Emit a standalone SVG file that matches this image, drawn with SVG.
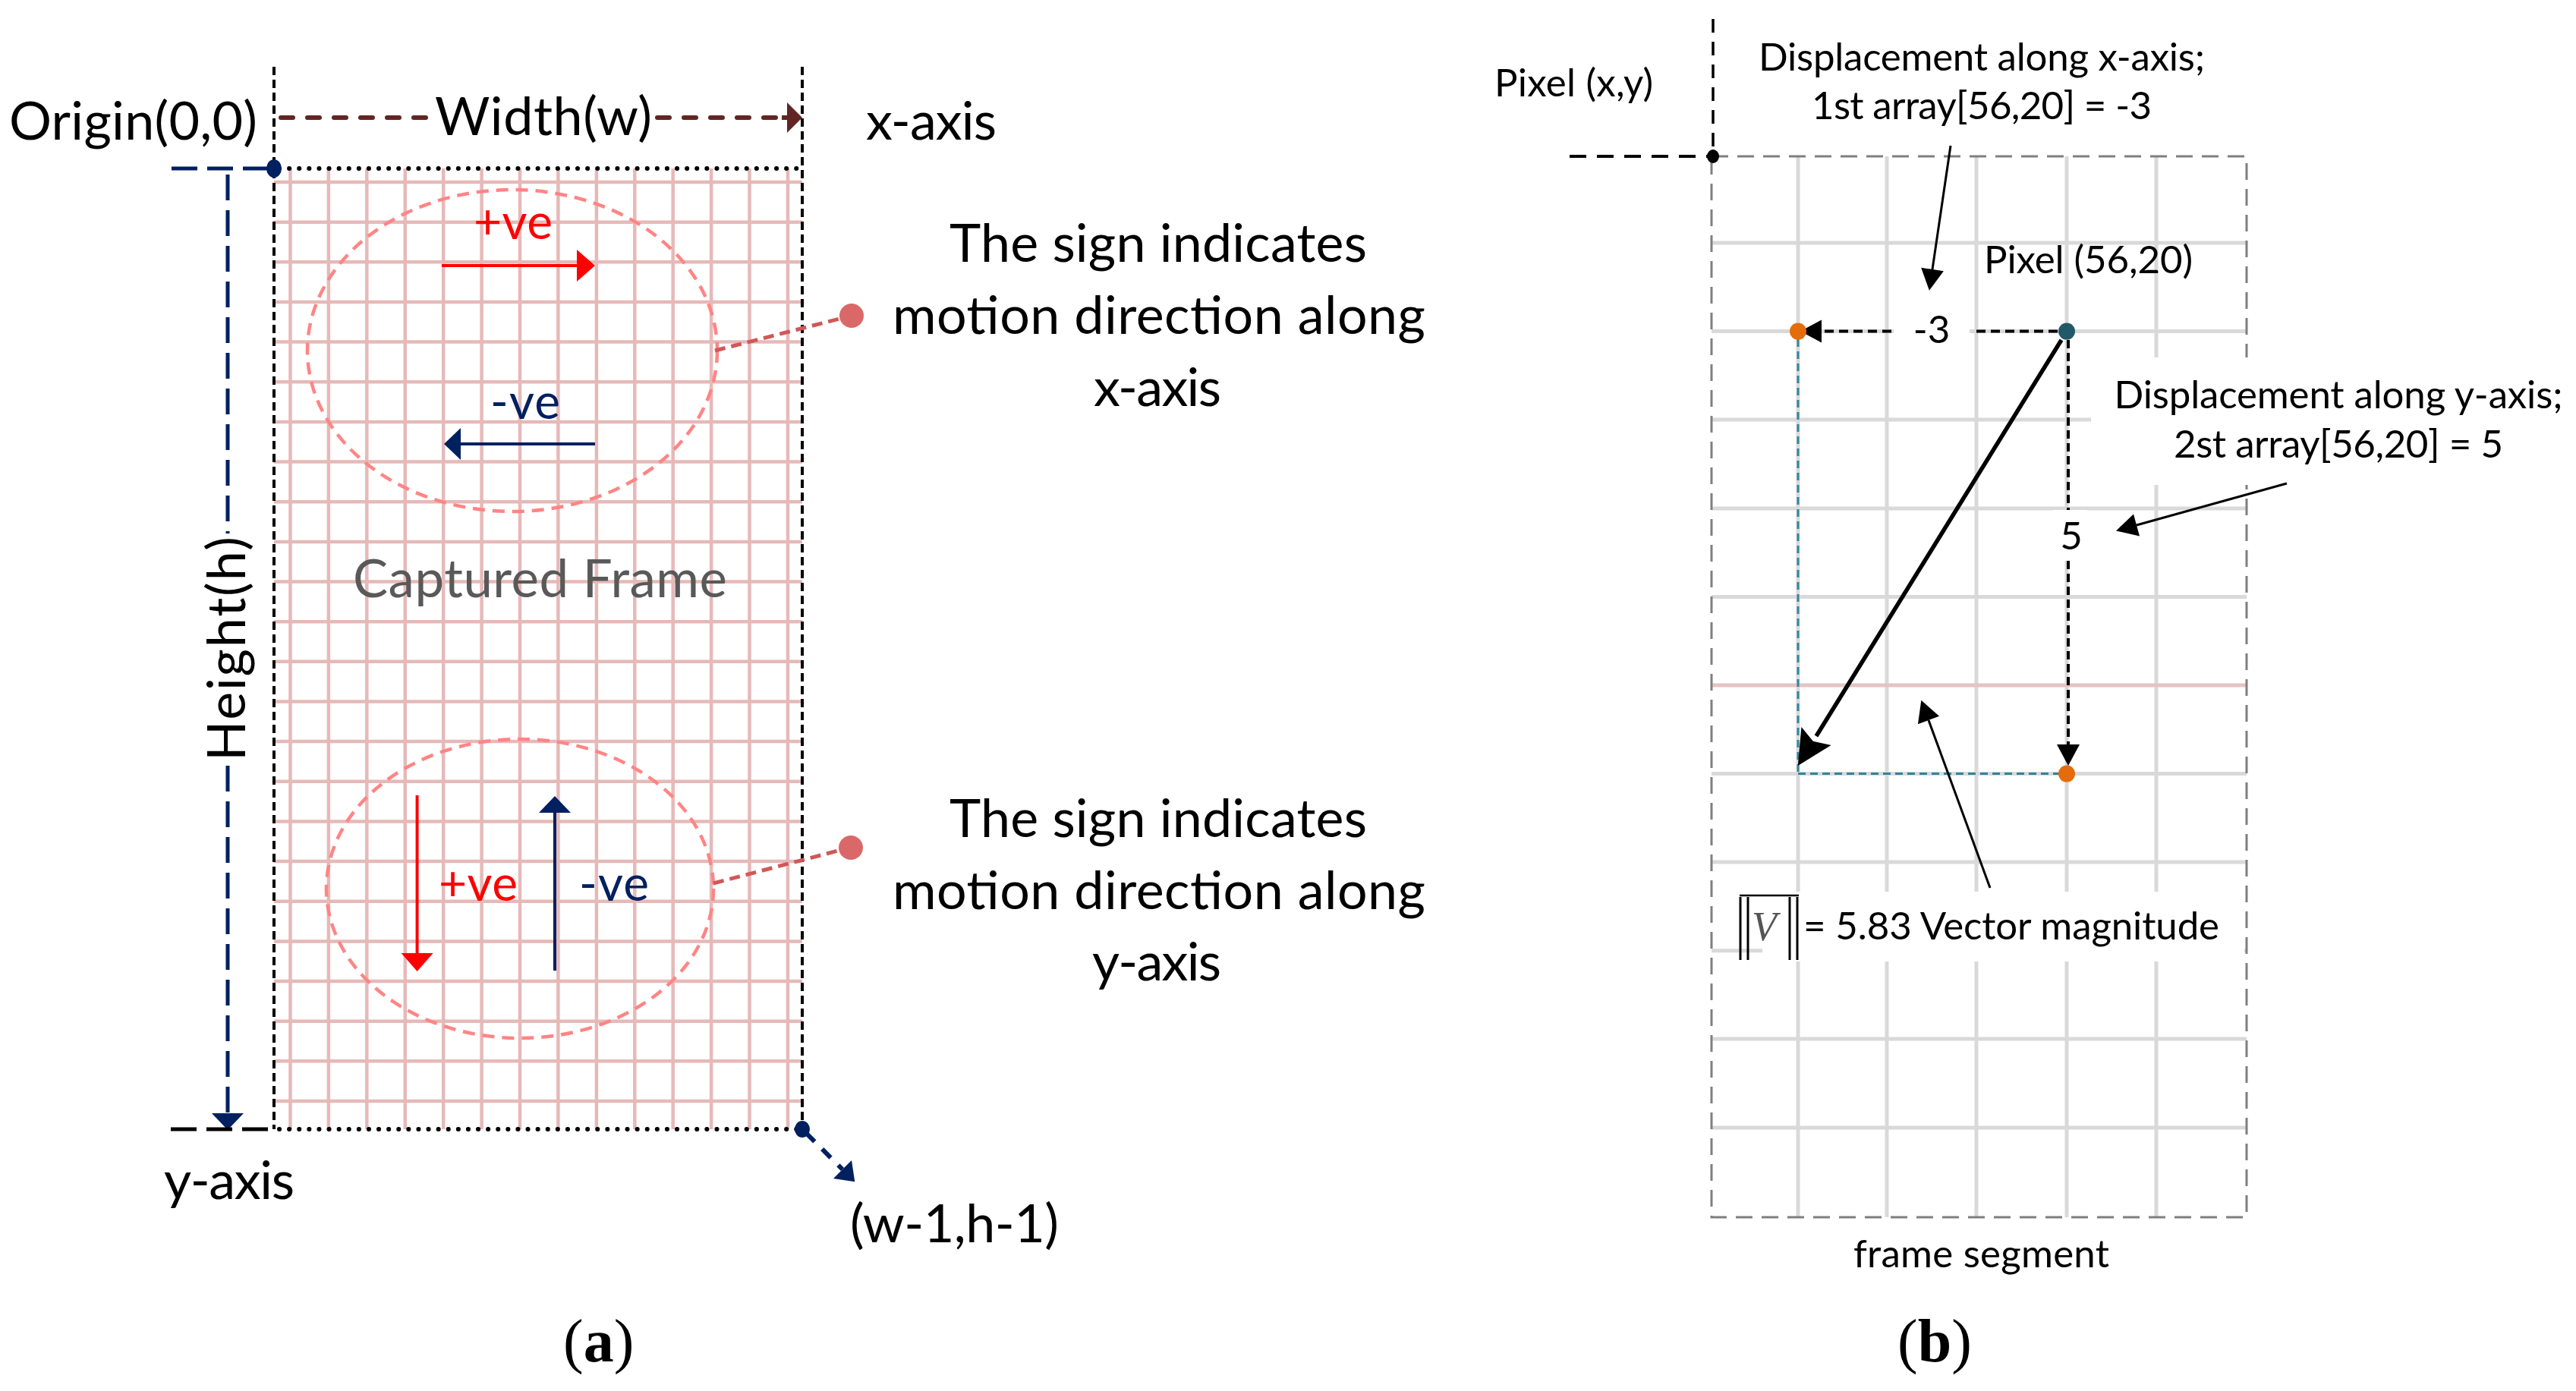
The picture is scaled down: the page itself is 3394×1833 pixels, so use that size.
<svg xmlns="http://www.w3.org/2000/svg" width="3394" height="1833" viewBox="0 0 3394 1833">
<style>
.t{font-family:Lato,"Noto Sans","DejaVu Sans",sans-serif;fill:#000}
.big{font-size:70px}
.sm{font-size:51px}
.cap{font-family:"Liberation Serif","Times New Roman",serif;font-size:80px;fill:#000}
.gridA{stroke:#e6b9b8;stroke-width:4.5;fill:none}
.gridB{stroke:#d9d9d9;stroke-width:5;fill:none}
.ell{fill:none;stroke:#ff8585;stroke-width:4.5;stroke-dasharray:16 10}
.ptr{stroke:#d05858;stroke-width:5;stroke-dasharray:14 8;fill:none}
.pdot{fill:#db6868}
.frameSide{stroke:#000;stroke-width:4;stroke-dasharray:11 6;fill:none}
.frameDot{stroke:#000;stroke-width:6;stroke-dasharray:0.1 13;stroke-linecap:round;fill:none}
.navyDash{stroke:#002060;stroke-width:5;stroke-dasharray:34 13;fill:none}
.blkDash{stroke:#000;stroke-width:5;stroke-dasharray:34 13;fill:none}
.brown{stroke:#632523;stroke-width:6;stroke-dasharray:16 19;stroke-linecap:round;fill:none}
.bdash{stroke:#000;stroke-width:4;stroke-dasharray:12 7;fill:none}
.tdash{stroke:#31859c;stroke-width:3;stroke-dasharray:10 6;fill:none}
.gframe{stroke:#7f7f7f;stroke-width:3;stroke-dasharray:22 12;fill:none}
.thin{stroke:#000;stroke-width:3;fill:none}
</style>
<defs>
<marker id="mRed" markerUnits="userSpaceOnUse" markerWidth="24" markerHeight="42" refX="0" refY="21" orient="auto" overflow="visible"><path d="M0,0 L24,21 L0,42 z" fill="#ff0000"/></marker>
<marker id="mNavy" markerUnits="userSpaceOnUse" markerWidth="24" markerHeight="42" refX="0" refY="21" orient="auto" overflow="visible"><path d="M0,0 L22,21 L0,42 z" fill="#002060"/></marker>
<marker id="mNavyS" markerUnits="userSpaceOnUse" markerWidth="24" markerHeight="34" refX="0" refY="17" orient="auto" overflow="visible"><path d="M0,0 L23,17 L0,34 z" fill="#002060"/></marker>
<marker id="mBrown" markerUnits="userSpaceOnUse" markerWidth="20" markerHeight="40" refX="0" refY="20" orient="auto" overflow="visible"><path d="M0,0 L20,20 L0,40 z" fill="#632523"/></marker>
<marker id="mBlk" markerUnits="userSpaceOnUse" markerWidth="28" markerHeight="30" refX="0" refY="15" orient="auto" overflow="visible"><path d="M0,0 L28,15 L0,30 z" fill="#000"/></marker>
<marker id="mBig" markerUnits="userSpaceOnUse" markerWidth="46" markerHeight="46" refX="0" refY="23" orient="auto" overflow="visible"><path d="M0,0 L46,23 L0,46 L8,23 z" fill="#000"/></marker>
</defs>
<rect x="0" y="0" width="3394" height="1833" fill="#fff"/>

<!-- ===== Panel (a) ===== -->
<g id="frame-a">
<path class="gridA" d="M382.5 222V1488M432.9 222V1488M483.3 222V1488M533.8 222V1488M584.2 222V1488M634.6 222V1488M685 222V1488M735.4 222V1488M785.9 222V1488M836.3 222V1488M886.7 222V1488M937.1 222V1488M987.5 222V1488M1038 222V1488"/>
<path class="gridA" d="M361 240H1057M361 292.7H1057M361 345.3H1057M361 398H1057M361 450.6H1057M361 503.3H1057M361 555.9H1057M361 608.6H1057M361 661.2H1057M361 713.9H1057M361 766.5H1057M361 819.2H1057M361 871.8H1057M361 924.5H1057M361 977.1H1057M361 1029.8H1057M361 1082.4H1057M361 1135.1H1057M361 1187.7H1057M361 1240.4H1057M361 1293H1057M361 1345.7H1057M361 1398.3H1057M361 1451H1057"/>
<line class="frameSide" x1="361" y1="88" x2="361" y2="1488"/>
<line class="frameSide" x1="1057" y1="88" x2="1057" y2="1488"/>
<line class="frameDot" x1="368" y1="222" x2="1057" y2="222"/>
<line class="frameDot" x1="368" y1="1488" x2="1052" y2="1488"/>
<text class="t" x="465" y="787" font-size="69" style="fill:#595959" textLength="493">Captured Frame</text>
</g>

<g id="region-x">
<ellipse class="ell" cx="675" cy="462" rx="270" ry="212"/>
<line x1="582" y1="350" x2="760" y2="350" stroke="#ff0000" stroke-width="4" marker-end="url(#mRed)"/>
<text class="t" x="624" y="315" font-size="64" style="fill:#ff0000" textLength="104">+ve</text>
<line x1="784" y1="585" x2="607" y2="585" stroke="#002060" stroke-width="4" marker-end="url(#mNavy)"/>
<text class="t" x="646" y="552" font-size="64" style="fill:#002060" textLength="92">-ve</text>
</g>

<g id="region-y">
<ellipse class="ell" cx="685" cy="1171" rx="255" ry="197"/>
<line x1="549.6" y1="1048" x2="549.6" y2="1256" stroke="#ff0000" stroke-width="4" marker-end="url(#mRed)"/>
<text class="t" x="578" y="1187" font-size="64" style="fill:#ff0000" textLength="104">+ve</text>
<line x1="731" y1="1279" x2="731" y2="1071" stroke="#002060" stroke-width="4" marker-end="url(#mNavy)"/>
<text class="t" x="763" y="1187" font-size="64" style="fill:#002060" textLength="92">-ve</text>
</g>

<g id="axes-a">
<line class="navyDash" x1="226" y1="222" x2="356" y2="222"/>
<line class="navyDash" x1="300" y1="230" x2="300" y2="703"/>
<line class="navyDash" x1="300" y1="1009" x2="300" y2="1467" marker-end="url(#mNavy)"/>
<line class="blkDash" x1="225" y1="1488" x2="361" y2="1488"/>
<ellipse cx="361" cy="222" rx="10" ry="12" fill="#002060"/>
<ellipse cx="1057" cy="1488" rx="10" ry="11" fill="#002060"/>
<line x1="1062" y1="1493" x2="1110" y2="1541" stroke="#002060" stroke-width="6" stroke-dasharray="16 14" marker-end="url(#mNavyS)"/>
<line class="brown" x1="370" y1="155" x2="567" y2="155"/>
<line class="brown" x1="866" y1="155" x2="1030" y2="155"/>
<line x1="1030" y1="155" x2="1037" y2="155" stroke="#632523" stroke-width="6" marker-end="url(#mBrown)"/>
<text class="t big" x="12" y="184" textLength="327">Origin(0,0)</text>
<text class="t big" x="573" y="178" textLength="286">Width(w)</text>
<text class="t big" x="1141" y="184" textLength="172">x-axis</text>
<text class="t big" transform="translate(323,855) rotate(-90)" x="0" y="0" text-anchor="middle" textLength="296">Height(h)</text>
<text class="t big" x="216" y="1580" textLength="172">y-axis</text>
<text class="t big" x="1120" y="1637" textLength="275">(w-1,h-1)</text>
</g>

<g id="note-x">
<line class="ptr" x1="942" y1="462" x2="1110" y2="419"/>
<circle class="pdot" cx="1122" cy="416" r="16"/>
<text class="t big" x="1526" y="345" font-size="71" text-anchor="middle" textLength="550">The sign indicates</text>
<text class="t big" x="1527" y="440" font-size="71" text-anchor="middle" textLength="702">motion direction along</text>
<text class="t big" x="1525" y="535" font-size="71" text-anchor="middle" textLength="168">x-axis</text>
</g>

<g id="note-y">
<line class="ptr" x1="940" y1="1164" x2="1108" y2="1120"/>
<circle class="pdot" cx="1121" cy="1117" r="16"/>
<text class="t big" x="1526" y="1103" font-size="71" text-anchor="middle" textLength="550">The sign indicates</text>
<text class="t big" x="1527" y="1198" font-size="71" text-anchor="middle" textLength="702">motion direction along</text>
<text class="t big" x="1524" y="1292" font-size="71" text-anchor="middle" textLength="170">y-axis</text>
</g>

<text class="cap" x="742" y="1794">(<tspan font-weight="bold">a</tspan>)</text>

<!-- ===== Panel (b) ===== -->
<g id="frame-b">
<path class="gridB" d="M2369 206V1604M2486 206V1604M2604 206V1604M2723 206V1604M2841 206V1604"/>
<path class="gridB" d="M2255 320H2960M2255 436.6H2960M2255 553H2960M2255 670H2960M2255 786.4H2960M2255 1019.6H2960M2255 1136H2960M2255 1252.8H2960M2255 1369H2960M2255 1486H2960"/>
<line x1="2255" y1="903" x2="2960" y2="903" stroke="#e6c3c3" stroke-width="5"/>
<rect class="gframe" x="2255" y="206" width="705" height="1398"/>
<line x1="2257" y1="25" x2="2257" y2="206" stroke="#000" stroke-width="3.5" stroke-dasharray="18 12"/>
<line x1="2068" y1="206" x2="2257" y2="206" stroke="#000" stroke-width="4" stroke-dasharray="22 14"/>
<ellipse cx="2257" cy="206" rx="8" ry="9" fill="#000"/>
<rect x="2755" y="471" width="635" height="168" fill="#fff"/>
<rect x="2322" y="1175" width="635" height="92" fill="#fff"/>
<rect x="2495" y="418" width="100" height="40" fill="#fff"/>
<rect x="2705" y="672" width="45" height="67" fill="#fff"/>
<text class="t sm" x="1969" y="127" textLength="209">Pixel (x,y)</text>
<text class="t sm" x="2614" y="360" textLength="275">Pixel (56,20)</text>
<text class="t sm" x="2442" y="1670" textLength="337">frame segment</text>
</g>

<g id="vector">
<line class="tdash" x1="2369" y1="447" x2="2369" y2="1019.6"/>
<line class="tdash" x1="2369" y1="1019.6" x2="2712" y2="1019.6"/>
<line class="bdash" x1="2711" y1="436.6" x2="2597" y2="436.6"/>
<line class="bdash" x1="2492" y1="436.6" x2="2400" y2="436.6" marker-end="url(#mBlk)"/>
<text class="t sm" x="2545" y="452" font-size="50" text-anchor="middle">-3</text>
<line class="bdash" x1="2725" y1="448" x2="2725" y2="672" style="stroke-dasharray:11 6"/>
<line class="bdash" x1="2725" y1="739" x2="2725" y2="981" style="stroke-dasharray:11 6" marker-end="url(#mBlk)"/>
<text class="t sm" x="2729" y="724" font-size="50" text-anchor="middle">5</text>
<line x1="2716" y1="448" x2="2393" y2="970" stroke="#000" stroke-width="5.5" marker-end="url(#mBig)"/>
<circle cx="2723" cy="436.6" r="11" fill="#215968"/>
<circle cx="2369" cy="436.6" r="11" fill="#e46c0a"/>
<circle cx="2723" cy="1019.6" r="11" fill="#e46c0a"/>
</g>

<g id="note-dx">
<text class="t sm" x="2611" y="93" text-anchor="middle" textLength="588">Displacement along x-axis;</text>
<text class="t sm" x="2611" y="157" text-anchor="middle" textLength="448">1st array[56,20] = -3</text>
<line class="thin" x1="2570" y1="192" x2="2546" y2="355" marker-end="url(#mBlk)"/>
</g>

<g id="note-dy">
<text class="t sm" x="3081" y="538" text-anchor="middle" textLength="591">Displacement along y-axis;</text>
<text class="t sm" x="3081" y="603" text-anchor="middle" textLength="434">2st array[56,20] = 5</text>
<line class="thin" x1="3013" y1="637" x2="2815" y2="692" marker-end="url(#mBlk)"/>
</g>

<g id="note-mag">
<line x1="2293" y1="1182" x2="2293" y2="1265" stroke="#000" stroke-width="3"/>
<line x1="2303" y1="1182" x2="2303" y2="1265" stroke="#000" stroke-width="3"/>
<line x1="2358" y1="1182" x2="2358" y2="1265" stroke="#000" stroke-width="3"/>
<line x1="2368" y1="1182" x2="2368" y2="1265" stroke="#000" stroke-width="3"/>
<line x1="2292" y1="1180" x2="2370" y2="1180" stroke="#000" stroke-width="2.5"/>
<text x="2308" y="1239" font-family="Liberation Serif,serif" font-style="italic" font-size="54" fill="#555">V</text>
<text class="t sm" x="2376" y="1238" font-size="52" textLength="548">= 5.83 Vector magnitude</text>
<line class="thin" x1="2622" y1="1170" x2="2541" y2="949" marker-end="url(#mBlk)"/>
</g>

<text class="cap" x="2500" y="1794">(<tspan font-weight="bold">b</tspan>)</text>
</svg>
